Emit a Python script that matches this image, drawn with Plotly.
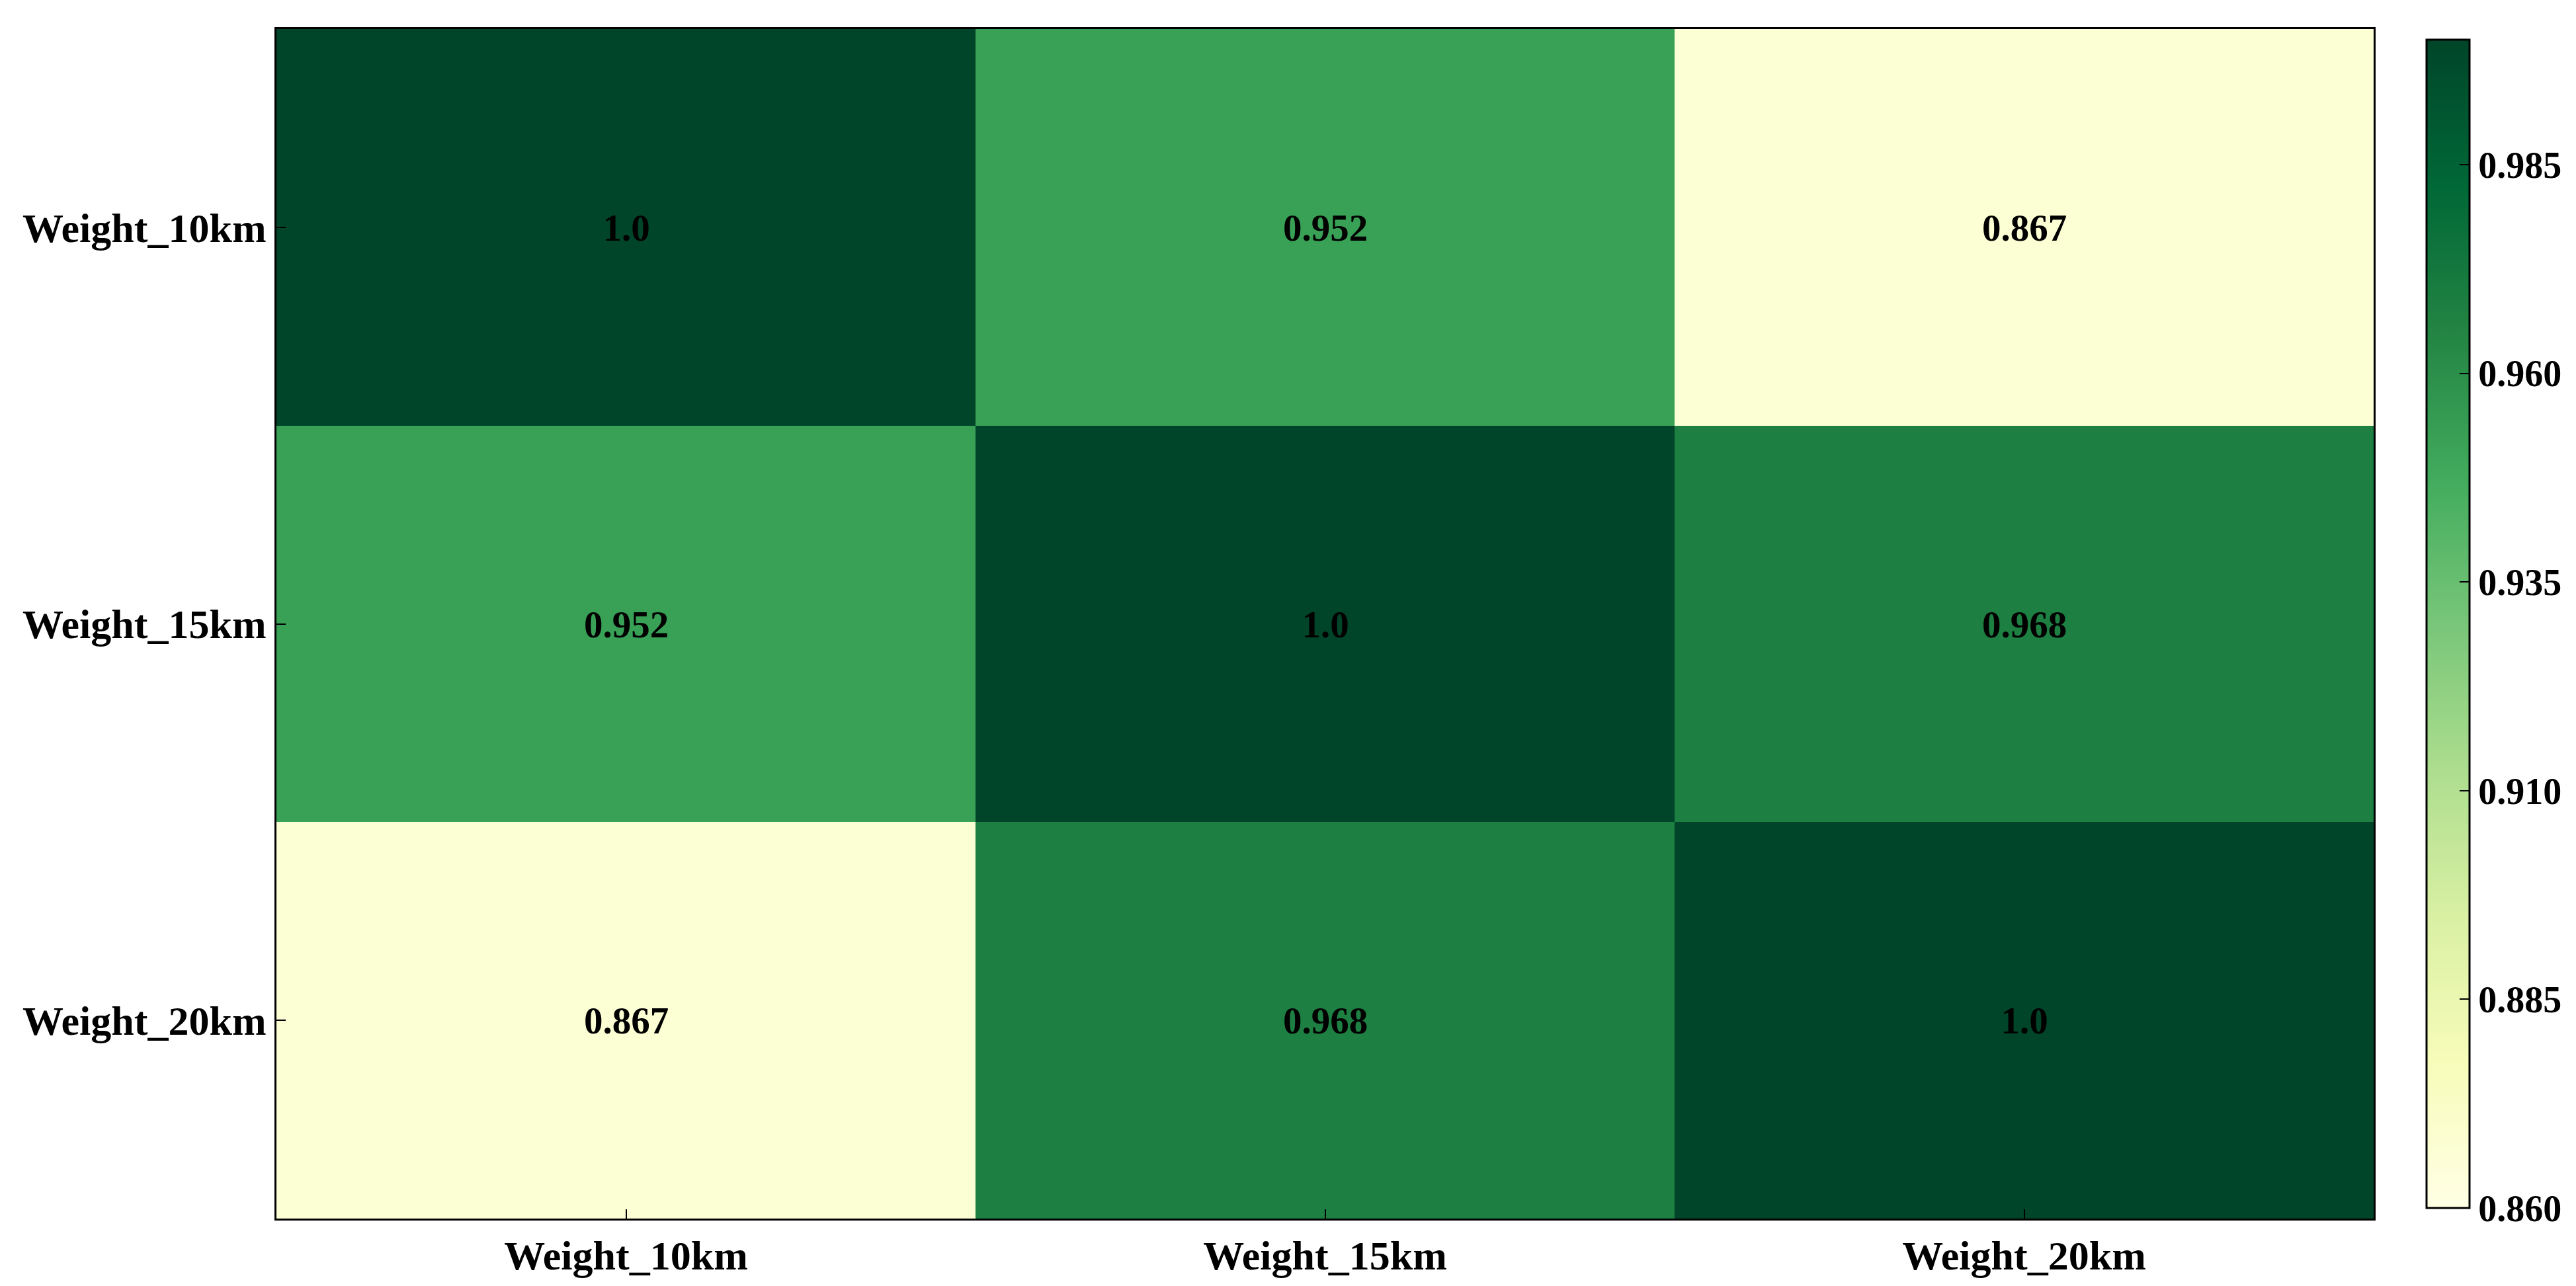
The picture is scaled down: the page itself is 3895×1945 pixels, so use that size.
import plotly.graph_objects as go

# correlation matrix of the weight layers
labels = ["Weight_10km", "Weight_15km", "Weight_20km"]
row_10km = [1.0, 0.952, 0.867]
row_15km = [0.952, 1.0, 0.968]
row_20km = [0.867, 0.968, 1.0]
cbar_ticks = [0.860, 0.885, 0.910, 0.935, 0.960, 0.985]

z = [row_10km, row_15km, row_20km]
text = [[str(v) for v in row] for row in z]

# YlGn, light to dark
ylgn = ["#ffffe5", "#f7fcb9", "#d9f0a3", "#addd8e", "#78c679",
        "#41ab5d", "#238443", "#006837", "#004529"]
scale = [[i / (len(ylgn) - 1), c] for i, c in enumerate(ylgn)]

font_family = "Liberation Serif"

fig = go.Figure(go.Heatmap(
    z=z, x=labels, y=labels,
    text=text, texttemplate="<b>%{text}</b>",
    textfont=dict(family=font_family, size=57, color="black"),
    colorscale=scale, zmin=0.86, zmax=1.0,
    colorbar=dict(
        x=1.0252, xanchor="left", y=0.5, yanchor="middle",
        len=0.982, thickness=65, xpad=0, ypad=0,
        outlinecolor="black", outlinewidth=3,
        tickvals=cbar_ticks, ticktext=["<b>%.3f</b>" % t for t in cbar_ticks],
        ticks="inside", ticklen=16, tickcolor="black", tickwidth=2,
        tickfont=dict(family=font_family, size=56, color="black"),
    ),
))

fig.update_xaxes(
    showline=True, linecolor="black", linewidth=3, mirror=True,
    ticks="inside", ticklen=14, tickwidth=2, tickcolor="black",
    tickfont=dict(family=font_family, size=62, color="black"),
    tickprefix="<b>", ticksuffix="</b>",
)
fig.update_yaxes(
    autorange="reversed",
    showline=True, linecolor="black", linewidth=3, mirror=True,
    ticks="inside", ticklen=14, tickwidth=2, tickcolor="black",
    tickfont=dict(family=font_family, size=62, color="black"),
    tickprefix="<b>", ticksuffix="</b>",
)

fig.update_layout(
    width=3895, height=1945,
    margin=dict(l=410, r=312, t=36, b=110),
    paper_bgcolor="white", plot_bgcolor="white",
)

fig.write_html("out.html")
